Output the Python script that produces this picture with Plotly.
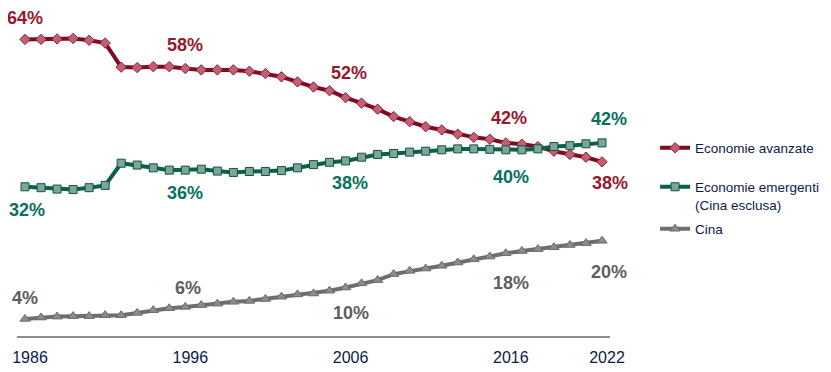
import plotly.graph_objects as go

years = list(range(1986, 2023))

avanzate = [64.2, 64.2, 64.3, 64.4, 64.0, 63.4, 58.2, 58.1, 58.3, 58.3,
            57.9, 57.6, 57.6, 57.6, 57.3, 56.8, 56.1, 55.0, 53.9, 53.1,
            51.6, 50.4, 49.1, 47.5, 46.4, 45.3, 44.6, 43.7, 43.0, 42.6,
            41.8, 41.5, 41.0, 40.0, 39.3, 38.7, 37.7]

emergenti = [32.3, 32.1, 31.8, 31.7, 32.1, 32.6, 37.4, 37.0, 36.4, 35.9,
             35.9, 36.1, 35.7, 35.4, 35.6, 35.6, 35.8, 36.4, 37.1, 37.6,
             37.9, 38.7, 39.3, 39.5, 39.8, 40.0, 40.3, 40.5, 40.5, 40.4,
             40.3, 40.3, 40.5, 41.0, 41.2, 41.6, 41.8]

cina = [3.7, 4.0, 4.2, 4.3, 4.3, 4.5, 4.5, 5.0, 5.6, 6.0,
        6.3, 6.7, 7.0, 7.4, 7.6, 8.0, 8.5, 9.0, 9.2, 9.8,
        10.5, 11.4, 12.1, 13.4, 14.1, 14.6, 15.2, 15.9, 16.6, 17.2,
        17.9, 18.4, 18.8, 19.2, 19.7, 20.1, 20.6]

tick_years = [1986, 1996, 2006, 2016, 2022]

labels_av = {1986: "64%", 1996: "58%", 2006: "52%", 2016: "42%", 2022: "38%"}
labels_em = {1986: "32%", 1996: "36%", 2006: "38%", 2016: "40%", 2022: "42%"}
labels_ci = {1986: "4%", 1996: "6%", 2006: "10%", 2016: "18%", 2022: "20%"}

RED = "#7E0B24"
GREEN = "#0B5F4D"
GRAY = "#6E6E6E"
RED_T = "#97182E"
GREEN_T = "#07705F"
GRAY_T = "#5E5E5E"
NAVY = "#0D1A4A"

fig = go.Figure()
fig.add_trace(go.Scatter(
    x=years, y=avanzate, mode="lines+markers", name="Economie avanzate",
    line=dict(color=RED, width=4),
    marker=dict(symbol="diamond", size=8, color="#C2606F",
                line=dict(color="#8E2036", width=1)),
    legend="legend"))
fig.add_trace(go.Scatter(
    x=years, y=emergenti, mode="lines+markers",
    name="Economie emergenti<br>(Cina esclusa)",
    line=dict(color=GREEN, width=4),
    marker=dict(symbol="square", size=8, color="#7FA596",
                line=dict(color="#0A5545", width=1)),
    legend="legend2"))
fig.add_trace(go.Scatter(
    x=years, y=cina, mode="lines+markers", name="Cina",
    line=dict(color=GRAY, width=4),
    marker=dict(symbol="triangle-up", size=9, color="#8C8C8C",
                line=dict(color="#6A6A6A", width=1)),
    legend="legend3"))

FONT_LBL = dict(family="Liberation Sans, Arial, sans-serif", size=18)

def add_labels(labels, values, color, shifts):
    for yr, txt in labels.items():
        i = years.index(yr)
        xs, ys = shifts[yr]
        fig.add_annotation(x=yr, y=values[i], text="<b>%s</b>" % txt,
                           showarrow=False, xshift=xs, yshift=ys,
                           font=dict(color=color, **FONT_LBL))

add_labels(labels_av, avanzate, RED_T,
           {1986: (0, 21), 1996: (0, 24), 2006: (3, 25), 2016: (3, 25), 2022: (8, -21)})
add_labels(labels_em, emergenti, GREEN_T,
           {1986: (2, -23), 1996: (0, -23), 2006: (4, -22), 2016: (5, -27), 2022: (7, 24)})
add_labels(labels_ci, cina, GRAY_T,
           {1986: (0, 21), 1996: (3, 19), 2006: (5, -26), 2016: (5, -30), 2022: (7, -31)})

leg_common = dict(font=dict(family="Liberation Sans, Arial, sans-serif", size=13.5, color=NAVY),
                  bgcolor="rgba(0,0,0,0)", xanchor="left", yanchor="middle",
                  itemwidth=30, valign="top", tracegroupgap=0)

# page body has an 8px margin: figure is sized/offset to compensate
fig.update_layout(
    width=823, height=364,
    margin=dict(l=9, r=221, t=2, b=36),
    paper_bgcolor="white", plot_bgcolor="white",
    showlegend=True,
    legend=dict(x=1.076, y=(336 - 148) / 326, **leg_common),
    legend2=dict(x=1.076, y=(336 - 196) / 326, **leg_common),
    legend3=dict(x=1.076, y=(336 - 229) / 326, **leg_common),
    xaxis=dict(range=[1985.5, 2022.5], tickmode="array", tickvals=tick_years,
               ticktext=[str(t) for t in tick_years], showgrid=False, zeroline=False,
               showline=True, linecolor="#8C8C8C", linewidth=1.5, ticks="",
               ticklabelshift=5, ticklabelstandoff=6,
               tickfont=dict(family="Liberation Sans, Arial, sans-serif", size=16, color=NAVY)),
    yaxis=dict(range=[0, 326 / 4.62], showgrid=False, zeroline=False,
               showticklabels=False, showline=False),
)

fig.write_html("out.html")
